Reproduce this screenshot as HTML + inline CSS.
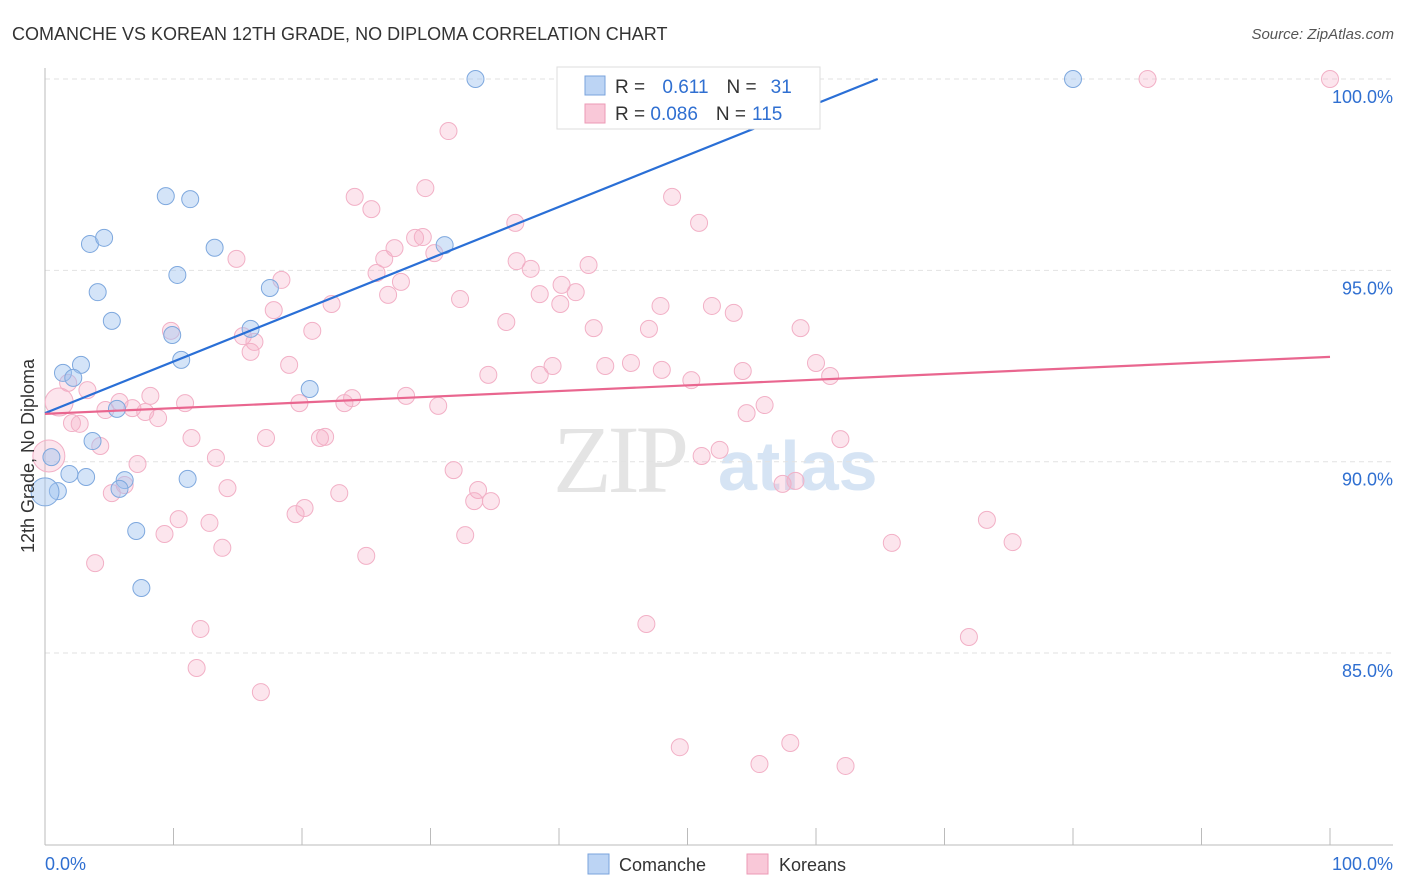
<!DOCTYPE html>
<html><head><meta charset="utf-8">
<style>
body{margin:0;background:#fff;font-family:"Liberation Sans",sans-serif;}
svg{display:block}
</style></head>
<body>
<svg id="chart" width="1406" height="892">
<text x="12" y="40" font-size="18" fill="#333">COMANCHE VS KOREAN 12TH GRADE, NO DIPLOMA CORRELATION CHART</text>
<text x="1394" y="39" font-size="15" fill="#555" font-style="italic" text-anchor="end">Source: ZipAtlas.com</text>
<g>
<text x="553" y="492" font-size="96" fill="#e4e4e4" font-family="Liberation Serif,serif" letter-spacing="-4">ZIP</text>
<text x="718" y="490" font-size="70" fill="#d6e4f4" font-weight="bold">atlas</text>
</g>
<g id="grid"></g>
<g id="axes"></g>
<g id="points"></g>
<g id="lines"></g>
<g>
<rect x="557" y="67" width="263" height="62" fill="#fff" stroke="#ddd"/>
<rect x="585" y="76" width="20" height="19" fill="#bcd4f4" stroke="#7aa3dc"/>
<rect x="585" y="104" width="20" height="19" fill="#f9c8d8" stroke="#ec9ab6"/>
<text x="615" y="93" font-size="19" fill="#333">R = <tspan fill="#2f6fd1" dx="12">0.611</tspan><tspan fill="#333" dx="18">N =</tspan><tspan fill="#2f6fd1" dx="14">31</tspan></text>
<text x="615" y="120" font-size="19" fill="#333">R = <tspan fill="#2f6fd1">0.086</tspan><tspan fill="#333" dx="18">N =</tspan><tspan fill="#2f6fd1" dx="6">115</tspan></text>
</g>
<g>
<rect x="588" y="854" width="21" height="20" fill="#bcd4f4" stroke="#7aa3dc"/>
<text x="619" y="871" font-size="18" fill="#333">Comanche</text>
<rect x="747" y="854" width="21" height="20" fill="#f9c8d8" stroke="#ec9ab6"/>
<text x="779" y="871" font-size="18" fill="#333">Koreans</text>
</g>
<text transform="translate(34,456) rotate(-90)" font-size="18" fill="#333" text-anchor="middle">12th Grade, No Diploma</text>
</svg>
<script>
const yTicks=[100,95,90,85];
const yTickLabels=["100.0%","95.0%","90.0%","85.0%"];
const xTickLabels=["0.0%","100.0%"];
const comancheX=[33.5,80.0,9.4,11.3,3.5,4.6,13.2,31.1,10.3,4.1,17.5,5.2,9.9,16.0,10.6,2.8,1.4,2.2,20.6,5.6,3.7,0.5,1.9,3.2,6.2,11.1,5.8,1.0,0.0,7.1,7.5];
const comancheY=[100,100,96.94,96.86,95.69,95.85,95.59,95.66,94.88,94.43,94.54,93.68,93.31,93.47,92.66,92.53,92.32,92.19,91.90,91.38,90.54,90.12,89.68,89.60,89.52,89.55,89.29,89.23,89.21,88.19,86.70];
const comancheR=[8.5,8.5,8.5,8.5,8.5,8.5,8.5,8.5,8.5,8.5,8.5,8.5,8.5,8.5,8.5,8.5,8.5,8.5,8.5,8.5,8.5,8.5,8.5,8.5,8.5,8.5,8.5,8.5,14,8.5,8.5];
const koreanX=[40.8,85.8,100,31.4,29.6,24.1,25.4,48.8,50.9,36.6,29.4,28.8,27.2,30.3,14.9,26.4,36.7,42.3,37.8,25.8,18.4,27.7,40.2,41.3,26.7,32.3,38.5,40.1,47.9,51.9,22.3,17.8,53.6,35.9,42.7,47.0,58.8,9.8,20.8,15.4,16.3,16.0,19.0,39.5,43.6,45.6,60.0,48.0,54.3,34.5,38.5,61.1,50.3,1.8,3.3,8.2,28.1,23.9,1.1,10.9,19.8,5.8,6.8,23.3,30.6,4.7,7.8,56.0,54.6,8.8,2.1,2.7,11.4,21.4,21.8,17.2,4.3,61.9,0.3,52.5,51.1,13.3,7.2,31.8,14.2,33.7,22.9,6.2,5.2,57.4,58.4,33.4,34.7,20.2,19.5,73.3,10.4,12.8,9.3,32.7,13.8,65.9,75.3,25.0,3.9,46.8,12.1,71.9,11.8,16.8,49.4,58.0,55.6,62.3];
const koreanY=[100,100,100,98.64,97.15,96.92,96.60,96.92,96.24,96.24,95.87,95.85,95.58,95.45,95.30,95.30,95.24,95.14,95.04,94.93,94.75,94.70,94.62,94.43,94.36,94.25,94.38,94.12,94.07,94.07,94.12,93.96,93.89,93.65,93.49,93.47,93.49,93.42,93.42,93.28,93.13,92.87,92.53,92.50,92.50,92.58,92.58,92.40,92.37,92.27,92.27,92.24,92.13,92.06,91.87,91.72,91.72,91.66,91.56,91.53,91.53,91.56,91.40,91.53,91.46,91.35,91.30,91.48,91.27,91.14,91.01,90.99,90.62,90.62,90.65,90.62,90.41,90.59,90.15,90.31,90.15,90.10,89.94,89.78,89.31,89.26,89.18,89.39,89.18,89.42,89.50,88.97,88.97,88.79,88.63,88.48,88.50,88.40,88.11,88.08,87.75,87.88,87.90,87.54,87.35,85.76,85.63,85.42,84.61,83.98,82.54,82.65,82.10,82.05];
const comancheTrend=[91.27,100];
const comancheTrendX=[0,64.8];
const koreanTrend=[91.25,92.74];
const koreanTrendX=[0,100];

const NS="http://www.w3.org/2000/svg";
const X0=45,X1=1330,Y100=79,PPP=38.27;
function xs(v){return X0+(X1-X0)*v/100;}
function ys(v){return Y100+(100-v)*PPP;}
function mk(tag,attrs,parent){const e=document.createElementNS(NS,tag);for(const k in attrs)e.setAttribute(k,attrs[k]);parent.appendChild(e);return e;}
const grid=document.getElementById('grid'),axes=document.getElementById('axes'),pts=document.getElementById('points'),lines=document.getElementById('lines');
yTicks.forEach((t,i)=>{
  const l=mk('line',{x1:45,x2:1393,y1:ys(t),y2:ys(t),stroke:'#e2e2e2','stroke-dasharray':'5,4'},grid);
  
  
  const tx=mk('text',{x:1393,y:ys(t)+24,'font-size':18,fill:'#2f6fd1','text-anchor':'end'},axes);
  tx.textContent=yTickLabels[i];
  
  
});
const ax=mk('line',{x1:45,x2:1393,y1:845,y2:845,stroke:'#bbb'},axes);


const ay=mk('line',{x1:45,x2:45,y1:68,y2:845,stroke:'#bbb'},axes);


for(let k=0;k<=10;k++){
  const t=mk('line',{x1:xs(k*10),x2:xs(k*10),y1:828,y2:845,stroke:'#bbb'},axes);
  
  
}
const xl0=mk('text',{x:45,y:870,'font-size':18,fill:'#2f6fd1'},axes);
xl0.textContent=xTickLabels[0];


const xl1=mk('text',{x:1393,y:870,'font-size':18,fill:'#2f6fd1','text-anchor':'end'},axes);
xl1.textContent=xTickLabels[1];


koreanX.forEach((v,i)=>{
  const r=(i==78)?16:(i==58?14:8.5);
  const c=mk('circle',{cx:xs(v),cy:ys(koreanY[i]),r:r,fill:'rgba(246,170,196,0.3)',stroke:'#f2b0c6','stroke-width':1},pts);
  
  
});
comancheX.forEach((v,i)=>{
  const c=mk('circle',{cx:xs(v),cy:ys(comancheY[i]),r:comancheR[i],fill:'rgba(160,196,240,0.45)',stroke:'#7ea8de','stroke-width':1},pts);
  
  
});
const bl=mk('line',{x1:xs(comancheTrendX[0]),y1:ys(comancheTrend[0]),x2:xs(comancheTrendX[1]),y2:ys(comancheTrend[1]),stroke:'#2a6fd6','stroke-width':2.2},lines);


const pl=mk('line',{x1:xs(koreanTrendX[0]),y1:ys(koreanTrend[0]),x2:xs(koreanTrendX[1]),y2:ys(koreanTrend[1]),stroke:'#e9668f','stroke-width':2.2},lines);


</script>
</body></html>
